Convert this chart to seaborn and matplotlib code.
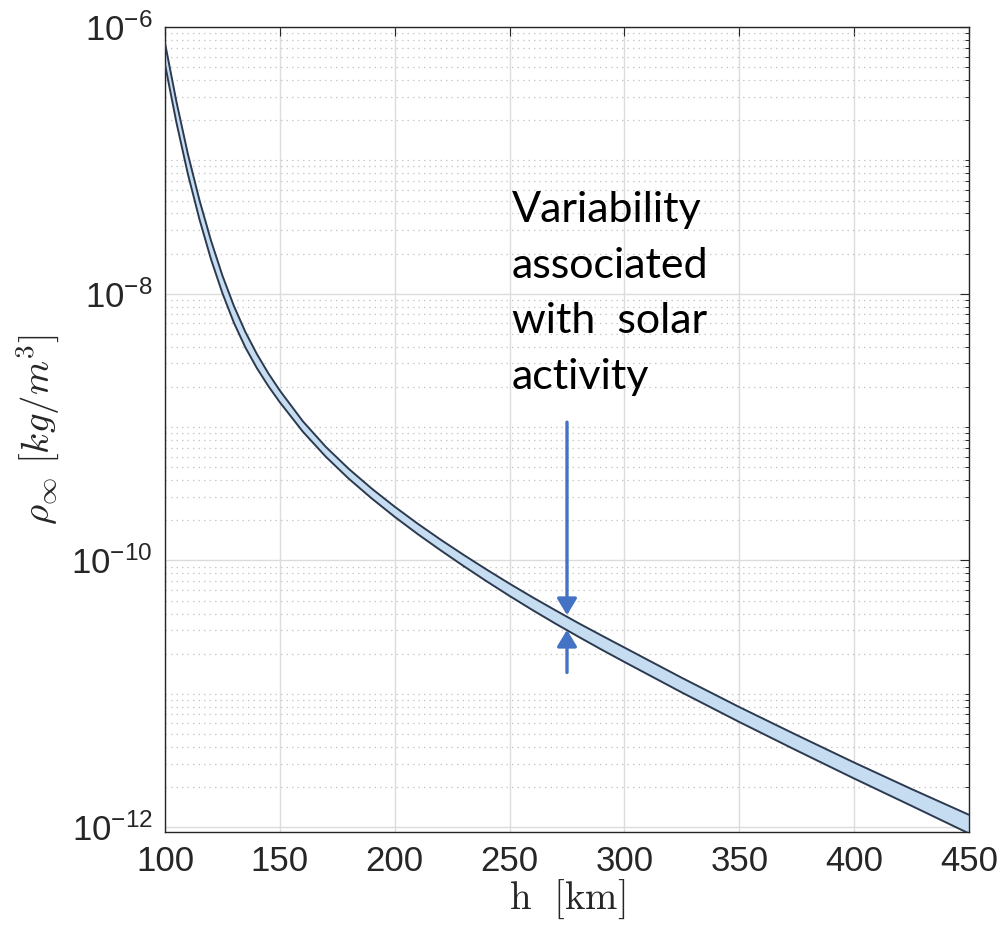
import numpy as np
import pandas as pd
import matplotlib
matplotlib.use("Agg")
import matplotlib.pyplot as plt
import seaborn as sns
from matplotlib.ticker import LogLocator, FixedLocator, NullLocator

# Altitude grid [km]
altitude_km = [100, 105, 110, 115, 120, 125, 130, 135, 140, 145, 150, 160, 170,
               180, 190, 200, 210, 220, 230, 240, 250, 260, 270, 280, 290, 300,
               325, 350, 375, 400, 425, 450]

# log10 of free-stream density [kg/m^3], upper bound (high solar activity)
log_rho_high = [-6.12, -6.562, -6.955, -7.298, -7.600, -7.864, -8.092, -8.287,
                -8.452, -8.597, -8.726, -8.956, -9.148, -9.313, -9.461, -9.597,
                -9.724, -9.844, -9.958, -10.068, -10.174, -10.276, -10.374,
                -10.470, -10.562, -10.653, -10.880, -11.099, -11.309, -11.515,
                -11.714, -11.907]

# log10 of free-stream density [kg/m^3], lower bound (low solar activity)
log_rho_low = [-6.28, -6.718, -7.105, -7.442, -7.740, -7.996, -8.218, -8.403,
               -8.558, -8.693, -8.814, -9.034, -9.222, -9.387, -9.535, -9.673,
               -9.802, -9.924, -10.042, -10.156, -10.266, -10.372, -10.474,
               -10.572, -10.668, -10.761, -10.990, -11.211, -11.425, -11.635,
               -11.840, -12.047]

rho_high = np.power(10.0, log_rho_high)
rho_low = np.power(10.0, log_rho_low)

x_ticks = [100, 150, 200, 250, 300, 350, 400, 450]
y_ticks = [1e-12, 1e-10, 1e-8, 1e-6]
y_limits = (9.2e-13, 1e-6)

note_text = "Variability\nassociated\nwith  solar\nactivity"
arrow_h = 275

sns.set_theme(style="white")
plt.rcParams['font.family'] = ['Liberation Sans', 'DejaVu Sans']
plt.rcParams['axes.unicode_minus'] = False

fig = plt.figure(figsize=(10.03, 9.31), dpi=100)
ax = fig.add_axes([0.1645, 0.1063, 0.8016, 0.8647])

df = pd.DataFrame({
    "h": altitude_km * 2,
    "rho": np.concatenate([rho_high, rho_low]),
    "bound": ["high"] * len(altitude_km) + ["low"] * len(altitude_km),
})

edge = "#2c3a4f"
fill = "#c6dcf1"

ax.fill_between(altitude_km, rho_low, rho_high, color=fill, lw=0, zorder=2)
sns.lineplot(data=df, x="h", y="rho", hue="bound", palette=[edge, edge],
             legend=False, linewidth=1.4, ax=ax, zorder=3, sort=True)

ax.set_yscale("log")
ax.set_xlim(100, 450)
ax.set_ylim(*y_limits)
ax.xaxis.set_major_locator(FixedLocator(x_ticks))
ax.xaxis.set_minor_locator(NullLocator())
ax.yaxis.set_major_locator(FixedLocator(y_ticks))
ax.yaxis.set_minor_locator(LogLocator(base=10, subs=np.arange(1, 10), numticks=40))
ax.yaxis.set_major_formatter(plt.FuncFormatter(
    lambda v, p: r"$\mathdefault{10^{%d}}$" % int(round(np.log10(v)))))
ax.yaxis.set_minor_formatter(plt.NullFormatter())

ax.grid(True, which="major", color="#dcdcdc", lw=1.0, zorder=0)
ax.grid(True, which="minor", axis="y", color="#c8c8c8", lw=0.9,
        linestyle=(0, (1.2, 3.2)), zorder=0)

for s in ax.spines.values():
    s.set_color("#262626")
    s.set_linewidth(1.0)
    s.set_visible(True)

ax.tick_params(which="both", direction="in", top=True, right=True,
               colors="#262626", labelcolor="#262626")
ax.tick_params(which="major", length=6.5, width=0.8, labelsize=25, pad=9)
ax.tick_params(which="minor", length=3, width=0.7)

ax.set_xlabel(r"$\mathrm{h\ \ [km]}$", fontsize=28, math_fontfamily="cm",
              color="#262626", labelpad=0)
ax.set_ylabel(r"$\rho_\infty\ [kg/m^3]$", fontsize=28, math_fontfamily="cm",
              color="#262626", labelpad=7)

arrow_color = "#4472c4"
arrow_style = "-|>,head_length=0.5,head_width=0.3"
ax.annotate("", xy=(arrow_h, 10 ** -10.41), xytext=(arrow_h, 10 ** -8.963),
            arrowprops=dict(arrowstyle=arrow_style, lw=2.4, color=arrow_color,
                            shrinkA=0, shrinkB=0, mutation_scale=20), zorder=5)
ax.annotate("", xy=(arrow_h, 10 ** -10.52), xytext=(arrow_h, 10 ** -10.84),
            arrowprops=dict(arrowstyle=arrow_style, lw=2.4, color=arrow_color,
                            shrinkA=0, shrinkB=0, mutation_scale=20), zorder=5)

ax.text(251, 5.9e-8, note_text, ha="left", va="top", fontsize=31,
        family=["Lato", "DejaVu Sans"], color="black", linespacing=1.57, zorder=6)

fig.savefig("out.png", dpi=100)
